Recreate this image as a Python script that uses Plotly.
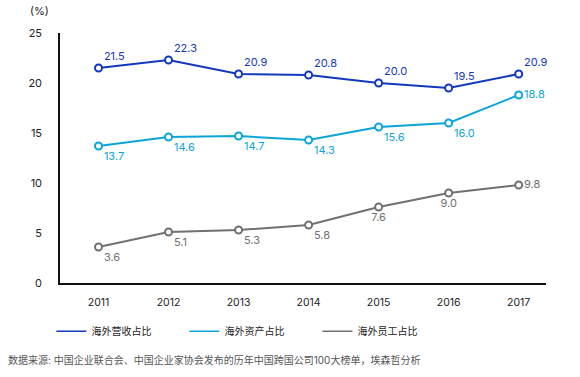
import plotly.graph_objects as go

years = ["2011", "2012", "2013", "2014", "2015", "2016", "2017"]
revenue_share = [21.5, 22.3, 20.9, 20.8, 20.0, 19.5, 20.9]
asset_share = [13.7, 14.6, 14.7, 14.3, 15.6, 16.0, 18.8]
staff_share = [3.6, 5.1, 5.3, 5.8, 7.6, 9.0, 9.8]
series_names = ["海外营收占比", "海外资产占比", "海外员工占比"]
y_ticks = [0, 5, 10, 15, 20, 25]

colors = ["#1238bd", "#0ba5d9", "#707070"]
text_pos = [
    ["top right"] * 7,
    ["bottom right"] * 6 + ["middle right"],
    ["bottom right", "bottom right", "bottom right", "bottom right", "bottom center", "bottom center", "middle right"],
]

FONT = "Inter, 'Noto Sans CJK SC', sans-serif"

fig = go.Figure()
for name, vals, col, tp in zip(series_names, [revenue_share, asset_share, staff_share], colors, text_pos):
    fig.add_trace(go.Scatter(
        x=years, y=vals, name=name, mode="lines+markers+text",
        line=dict(color=col, width=2),
        marker=dict(symbol="circle", size=7, color="white", line=dict(color=col, width=2)),
        text=[f"{v:.1f}" for v in vals], textposition=tp,
        textfont=dict(color=col, size=11, family=FONT),
        cliponaxis=False, showlegend=False, hoverinfo="x+y+name",
    ))
    # legend-only entry (line without marker)
    fig.add_trace(go.Scatter(
        x=[None], y=[None], name=name, mode="lines",
        line=dict(color=col, width=1.5), showlegend=True,
    ))

fig.update_layout(
    width=580, height=377,
    margin=dict(l=60, r=34, t=33, b=94, autoexpand=False),
    plot_bgcolor="white", paper_bgcolor="white",
    font=dict(family=FONT, size=11, color="#222222"),
    showlegend=True,
    legend=dict(orientation="h", x=-0.0177, y=-0.193, xanchor="left", yanchor="middle",
                entrywidth=88, entrywidthmode="pixels", font=dict(size=10, color="#222222"),
                bgcolor="rgba(0,0,0,0)"),
    xaxis=dict(type="category", range=[-0.55, 6.39], showgrid=False, showline=True,
               linecolor="#111111", linewidth=1.5, ticks="", tickfont=dict(size=10.5),
               ticklabelstandoff=9, fixedrange=True, automargin=False),
    yaxis=dict(range=[0, 25], tickvals=y_ticks, showgrid=False, showline=True,
               linecolor="#111111", linewidth=1.5, ticks="", zeroline=False,
               tickfont=dict(size=11), ticklabelstandoff=14, automargin=False),
    annotations=[
        dict(text="(%)", xref="paper", yref="paper", x=-0.043, y=1.086, showarrow=False,
             xanchor="center", yanchor="middle", font=dict(size=11, color="#222222")),
        dict(text="数据来源: 中国企业联合会、中国企业家协会发布的历年中国跨国公司100大榜单，埃森哲分析",
             xref="paper", yref="paper", x=-0.111, y=-0.308, showarrow=False,
             xanchor="left", yanchor="middle", font=dict(size=10, color="#555555")),
    ],
)

fig.write_html("out.html", config={"displayModeBar": False},
               post_script="document.body.style.margin='0';")
